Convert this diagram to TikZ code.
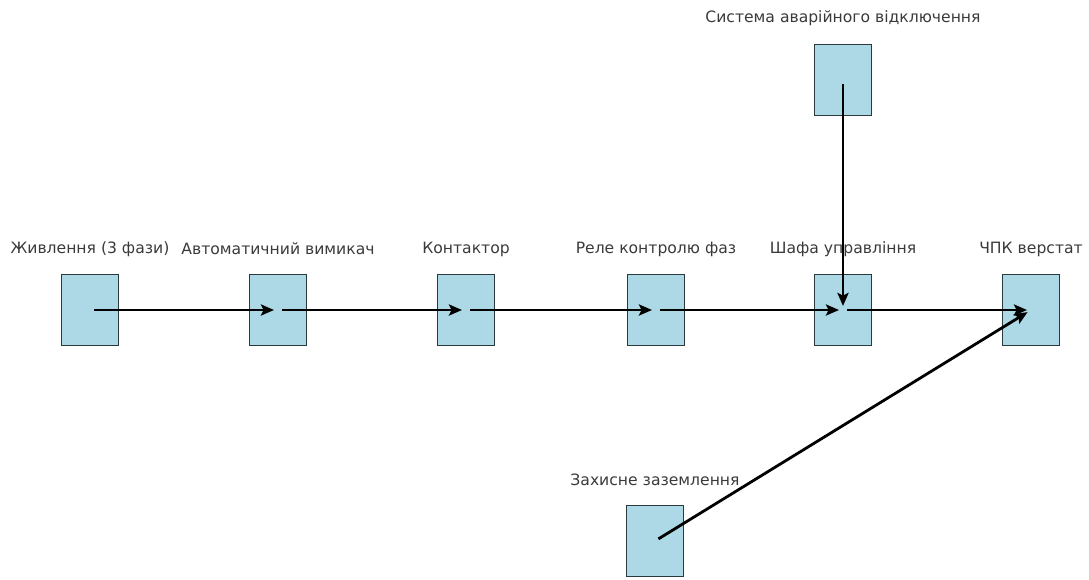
\documentclass[tikz,border=0pt]{standalone}
\usepackage{fontspec}
\setmainfont{DejaVu Sans}
\usetikzlibrary{arrows.meta}
\definecolor{boxfill}{HTML}{ADD8E6}
\definecolor{boxline}{HTML}{2B3A3F}
\definecolor{labelcol}{HTML}{3A3A3A}
\begin{document}
\begin{tikzpicture}[x=1pt,y=-1pt,
  block/.style={draw=boxline,line width=1.8pt,fill=boxfill,minimum width=57pt,minimum height=71pt,inner sep=0pt},
  lbl/.style={text=labelcol,font=\fontsize{15.6}{18}\selectfont,inner sep=0pt},
  conn/.style={line width=2.8pt,draw=black,-{Stealth[length=13pt,width=11pt,inset=2.5pt]},shorten <=4pt,shorten >=4pt}]
\useasboundingbox (0,0) rectangle (1089,579);
\node[block] (p) at (90,310) {};
\node[block] (a) at (278,310) {};
\node[block] (k) at (466,310) {};
\node[block] (r) at (656,310) {};
\node[block] (s) at (843,310) {};
\node[block] (c) at (1031,310) {};
\node[block] (e) at (843,80) {};
\node[block] (g) at (655,541) {};
\node[lbl] (pl) at (90,249) {Живлення (3 фази)};
\node[lbl] (al) at (278,249) {Автоматичний вимикач};
\node[lbl] (kl) at (466,249) {Контактор};
\node[lbl] (rl) at (656,249) {Реле контролю фаз};
\node[lbl] (sl) at (843,249) {Шафа управління};
\node[lbl] (cl) at (1031,249) {ЧПК верстат};
\node[lbl] (el) at (843,18) {Система аварійного відключення};
\node[lbl] (gl) at (655,480) {Захисне заземлення};
\draw[conn] (p.center) -- (a.center);
\draw[conn] (a.center) -- (k.center);
\draw[conn] (k.center) -- (r.center);
\draw[conn] (r.center) -- (s.center);
\draw[conn] (s.center) -- (c.center);
\draw[conn] (e.center) -- (s.center);
\draw[conn] (g.center) -- (c.center);
\end{tikzpicture}
\end{document}
